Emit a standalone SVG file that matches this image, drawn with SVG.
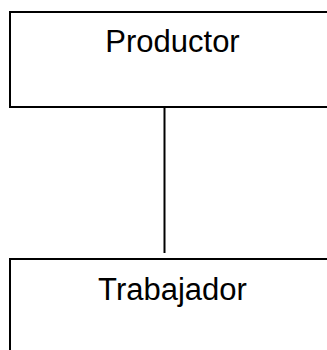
<svg xmlns="http://www.w3.org/2000/svg" width="327" height="350" viewBox="0 0 327 350">
<style>
.box{fill:#fff;stroke:#000;stroke-width:2}
.lbl{font-family:"Liberation Sans",Arial,sans-serif;font-size:31px;fill:#000;text-anchor:middle}
.conn{stroke:#000;stroke-width:2;fill:none}
</style>
<rect width="327" height="350" fill="#fff"/>
<g id="connectors">
<line class="conn" x1="164.5" y1="107" x2="164.5" y2="253"/>
</g>
<g id="productor">
<rect class="box" x="10" y="12" width="325" height="95"/>
<text class="lbl" x="172.5" y="52">Productor</text>
</g>
<g id="trabajador">
<rect class="box" x="10" y="259" width="325" height="110"/>
<text class="lbl" x="172.5" y="300">Trabajador</text>
</g>
</svg>
